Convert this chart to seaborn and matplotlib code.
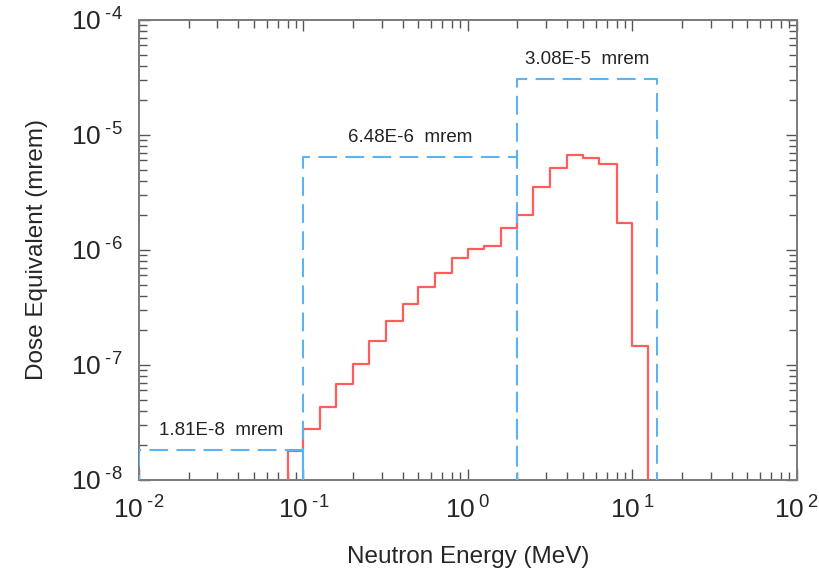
import numpy as np
import pandas as pd
import matplotlib
matplotlib.use("Agg")
import matplotlib.pyplot as plt
import seaborn as sns
from matplotlib.ticker import LogLocator, NullFormatter, FixedLocator, FixedFormatter

# red histogram: bin edges (MeV) and dose per bin (mrem)
bin_edges = [0.08, 0.1, 0.126, 0.158, 0.2, 0.25, 0.316, 0.4, 0.5, 0.63, 0.8,
             1.0, 1.25, 1.58, 2.0, 2.5, 3.16, 4.0, 5.0, 6.3, 8.0, 10.0, 12.5]
bin_dose = [1.8e-8, 2.8e-8, 4.35e-8, 6.9e-8, 1.03e-7, 1.63e-7, 2.4e-7, 3.4e-7,
            4.8e-7, 6.35e-7, 8.5e-7, 1.01e-6, 1.08e-6, 1.56e-6, 2.0e-6, 3.5e-6,
            5.2e-6, 6.65e-6, 6.27e-6, 5.56e-6, 1.7e-6, 1.47e-7]

# blue dashed: energy groups and their integrated dose
group_lo = [0.01, 0.1, 2.0]
group_hi = [0.1, 2.0, 14.0]
group_dose = [1.81e-8, 6.48e-6, 3.08e-5]
group_text = ["1.81E-8  mrem", "6.48E-6  mrem", "3.08E-5  mrem"]

x_ticks = [1e-2, 1e-1, 1e0, 1e1, 1e2]
x_exps = ["-2", "-1", "0", "1", "2"]
y_ticks = [1e-8, 1e-7, 1e-6, 1e-5, 1e-4]
y_exps = ["-8", "-7", "-6", "-5", "-4"]


def pow_label(e):
    # short hyphen instead of the long mathtext minus, with a small gap
    return r"$10^{\;%s}$" % e.replace("-", "\u2010")


sns.set_style("ticks")
plt.rcParams["font.family"] = ["Liberation Sans", "DejaVu Sans"]
plt.rcParams["mathtext.fontset"] = "custom"
plt.rcParams["mathtext.rm"] = "Liberation Sans"
plt.rcParams["mathtext.it"] = "Liberation Sans"
plt.rcParams["mathtext.default"] = "rm"

YMIN, YMAX = 1e-8, 1e-4
base = 1e-10  # below the axis so the end walls run off the bottom

fig = plt.figure(figsize=(8.19, 5.74), dpi=100)
ax = fig.add_axes([0.1697, 0.1638, 0.8034, 0.8014])

# red step outline
xs = [bin_edges[0]]
ys = [base]
for i, v in enumerate(bin_dose):
    xs += [bin_edges[i], bin_edges[i + 1]]
    ys += [v, v]
xs.append(bin_edges[-1])
ys.append(base)
red = pd.DataFrame({"E": xs, "D": ys})
sns.lineplot(data=red, x="E", y="D", sort=False, estimator=None,
             color="#ff5c5c", linewidth=1.6, ax=ax, zorder=3)

# blue dashed group boxes
for lo, hi, d, t in zip(group_lo, group_hi, group_dose, group_text):
    box = pd.DataFrame({"E": [lo, lo, hi, hi], "D": [base, d, d, base]})
    sns.lineplot(data=box, x="E", y="D", sort=False, estimator=None,
                 color="#5cb3f2", linewidth=1.5, ax=ax, zorder=4)
    ax.lines[-1].set_dashes([9, 4])
    xc = np.sqrt(lo * hi)
    ax.annotate(t, xy=(xc, d), xytext=(0, 8), textcoords="offset points",
                ha="center", va="bottom", fontsize=13.5, color="#222222")

ax.set_xscale("log")
ax.set_yscale("log")
ax.set_xlim(1e-2, 1e2)
ax.set_ylim(YMIN, YMAX)

ax.xaxis.set_major_locator(FixedLocator(x_ticks))
ax.xaxis.set_major_formatter(FixedFormatter([pow_label(e) for e in x_exps]))
ax.yaxis.set_major_locator(FixedLocator(y_ticks))
ax.yaxis.set_major_formatter(FixedFormatter([pow_label(e) for e in y_exps]))
ax.xaxis.set_minor_locator(LogLocator(base=10, subs=np.arange(2, 10), numticks=20))
ax.yaxis.set_minor_locator(LogLocator(base=10, subs=np.arange(2, 10), numticks=20))
ax.xaxis.set_minor_formatter(NullFormatter())
ax.yaxis.set_minor_formatter(NullFormatter())

ax.tick_params(which="both", direction="in", top=True, right=True,
               color="#555555", width=1.0)
ax.tick_params(which="major", length=8, labelsize=19, pad=12)
ax.tick_params(which="minor", length=5.5)
for s in ax.spines.values():
    s.set_color("#7a7a7a")
    s.set_linewidth(1.4)

ax.set_xlabel("Neutron Energy (MeV)", fontsize=17.5, labelpad=16)
ax.set_ylabel("Dose Equivalent (mrem)", fontsize=17.5, labelpad=16)

fig.savefig("out.png", dpi=100)
